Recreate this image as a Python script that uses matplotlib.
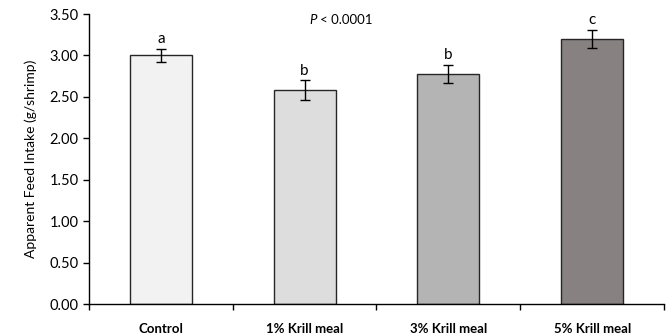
import matplotlib
matplotlib.use('Agg')
import matplotlib.pyplot as plt
from matplotlib.ticker import FixedLocator

plt.rcParams['font.family'] = ['Lato', 'DejaVu Sans']

# data
groups = ['Control', '1% Krill meal', '3% Krill meal', '5% Krill meal']
intake = [3.00, 2.58, 2.78, 3.20]
sem = [0.08, 0.12, 0.11, 0.11]
letters = ['a', 'b', 'b', 'c']
colors = ['#f2f2f2', '#dddddd', '#b4b4b4', '#878281']

fig = plt.figure(figsize=(6.71, 3.36), dpi=100)
ax = fig.add_axes([0.1326, 0.0952, 0.857, 0.863])

x = range(len(groups))
ax.bar(x, intake, width=0.43, color=colors, edgecolor='#262626', linewidth=1.0,
       yerr=sem, error_kw=dict(ecolor='black', elinewidth=1.0, capsize=3.5, capthick=1.0),
       zorder=2)

# significance letters above the error bars
for i in x:
    ax.text(i, intake[i] + sem[i] + 0.03, letters[i], ha='center', va='bottom', fontsize=11)

ax.text(1.03, 3.43, 'P', style='italic', ha='left', va='center', fontsize=9.5)
ax.text(1.11, 3.43, '< 0.0001', ha='left', va='center', fontsize=9.5)

ax.set_xlim(-0.5, 3.5)
ax.set_ylim(0, 3.5)
ax.set_yticks([0, 0.5, 1.0, 1.5, 2.0, 2.5, 3.0, 3.5])
ax.set_yticklabels(['%.2f' % v for v in ax.get_yticks()], fontsize=10.5)
ax.set_xticks(list(x))
ax.set_xticklabels(groups, fontsize=9.5, fontweight='bold')
ax.tick_params(axis='x', length=0, pad=14)
ax.xaxis.set_minor_locator(FixedLocator([-0.5, 0.5, 1.5, 2.5, 3.5]))
ax.tick_params(axis='x', which='minor', length=4, direction='out', width=1)
ax.tick_params(axis='y', length=4, direction='out', width=1)

for s in ['top', 'right']:
    ax.spines[s].set_visible(False)
ax.spines['left'].set_linewidth(1)
ax.spines['bottom'].set_linewidth(1)

ax.set_ylabel('Apparent Feed Intake (g/shrimp)', fontsize=10, labelpad=9)

fig.savefig('out.png', dpi=100)
